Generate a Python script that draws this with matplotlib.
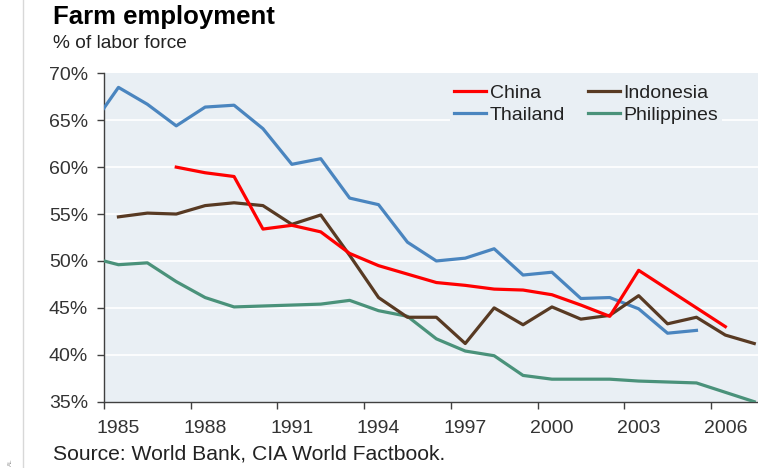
import matplotlib
matplotlib.use("Agg")
import matplotlib.pyplot as plt
import numpy as np

plt.rcParams['font.family'] = ['Liberation Sans', 'DejaVu Sans']

# ---- data (% of labor force) ----
china_years = list(range(1987, 2007))
china = [60.0, 59.4, 59.0, 53.4, 53.8, 53.1, 50.8, 49.5, 48.6, 47.7, 47.4, 47.0,
         46.9, 46.4, 45.3, 44.1, 49.0, 47.0, 45.0, 43.0]

indonesia_years = list(range(1985, 2008))
indonesia = [54.7, 55.1, 55.0, 55.9, 56.2, 55.9, 53.9, 54.9, 50.6, 46.1, 44.0, 44.0,
             41.2, 45.0, 43.2, 45.1, 43.8, 44.2, 46.3, 43.3, 44.0, 42.1, 41.2]

thailand_years = list(range(1984, 2006))
thailand = [64.1, 68.5, 66.7, 64.4, 66.4, 66.6, 64.1, 60.3, 60.9, 56.7, 56.0, 52.0,
            50.0, 50.3, 51.3, 48.5, 48.8, 46.0, 46.1, 44.9, 42.3, 42.6]

philippines_years = list(range(1984, 2008))
philippines = [50.4, 49.6, 49.8, 47.8, 46.1, 45.1, 45.2, 45.3, 45.4, 45.8, 44.7, 44.1,
               41.7, 40.4, 39.9, 37.8, 37.4, 37.4, 37.4, 37.2, 37.1, 37.0, 36.0, 35.0]

tick_years = [1985, 1988, 1991, 1994, 1997, 2000, 2003, 2006]
y_ticks = [35, 40, 45, 50, 55, 60, 65, 70]

# ---- figure ----
W, H = 758, 468
fig = plt.figure(figsize=(W / 100, H / 100), dpi=100)
fig.patch.set_facecolor('white')

bg = '#E9EFF4'
ax = fig.add_axes([104 / W, 1 - 401.7 / H, (W - 104) / W, (401.7 - 73.3) / H])
ax.set_facecolor(bg)

lw = 2.3
ax.plot(china_years, china, color='#FF0000', lw=lw, label='China', zorder=5)
ax.plot(thailand_years, thailand, color='#4A85BF', lw=lw, label='Thailand', zorder=3)
ax.plot(indonesia_years, indonesia, color='#583A23', lw=lw, label='Indonesia', zorder=4)
ax.plot(philippines_years, philippines, color='#4A927A', lw=lw, label='Philippines', zorder=3)

ax.set_xlim(1984.5, 1984.5 + (W - 104) / 28.9)
ax.set_ylim(35, 70)

# grid
for v in y_ticks[1:-1]:
    ax.axhline(v, color='white', lw=1.2, zorder=1)

# spines
for s in ['top', 'right']:
    ax.spines[s].set_visible(False)
for s in ['left', 'bottom']:
    ax.spines[s].set_color('#404040')
    ax.spines[s].set_linewidth(1.0)

fs = 14
ax.set_yticks(y_ticks)
ax.set_yticklabels([f'{v}%' for v in y_ticks])
ax.tick_params(axis='y', length=4.7, width=1, color='#404040', pad=6.8,
               labelsize=fs, labelcolor='#333333')

ax.set_xticks([y - 0.5 for y in tick_years])
ax.set_xticklabels([])
ax.tick_params(axis='x', which='major', length=4.8, width=1, color='#404040')
ax.set_xticks(tick_years, minor=True)
ax.set_xticklabels([str(y) for y in tick_years], minor=True)
ax.tick_params(axis='x', which='minor', length=0, pad=13, labelsize=fs,
               labelcolor='#333333')

# legend
handles, labels = ax.get_legend_handles_labels()
leg = ax.legend(handles, labels,
                ncol=2, loc='upper left',
                bbox_to_anchor=(450 / W, 1 - 80.5 / H), bbox_transform=fig.transFigure,
                frameon=True, facecolor=bg, edgecolor='none', framealpha=1,
                fontsize=fs, handlelength=1.65, handletextpad=0.2,
                columnspacing=1.15, labelspacing=0.2, borderpad=0.2,
                borderaxespad=0, fancybox=False)
for t in leg.get_texts():
    t.set_color('#222222')
leg.set_zorder(10)

# texts
fig.text(53 / W, 1 - 24 / H, 'Farm employment', fontsize=18.5, fontweight='bold',
         color='black', va='baseline', ha='left')
fig.text(53 / W, 1 - 48 / H, '% of labor force', fontsize=13.8, color='#222222',
         va='baseline', ha='left')
fig.text(53 / W, 1 - 459.5 / H, 'Source: World Bank, CIA World Factbook.', fontsize=15.2,
         color='#222222', va='baseline', ha='left')

# left border line artifact
fig.add_artist(plt.Line2D([22.5 / W, 22.5 / W], [0, 1], transform=fig.transFigure,
                          color='#D8D8D8', lw=1.0))
fig.text(10 / W, 1 - 462 / H, 'AL', fontsize=4.5, rotation=90, color='#999999',
         ha='center', va='center')

fig.savefig('out.png', dpi=100, facecolor='white')
